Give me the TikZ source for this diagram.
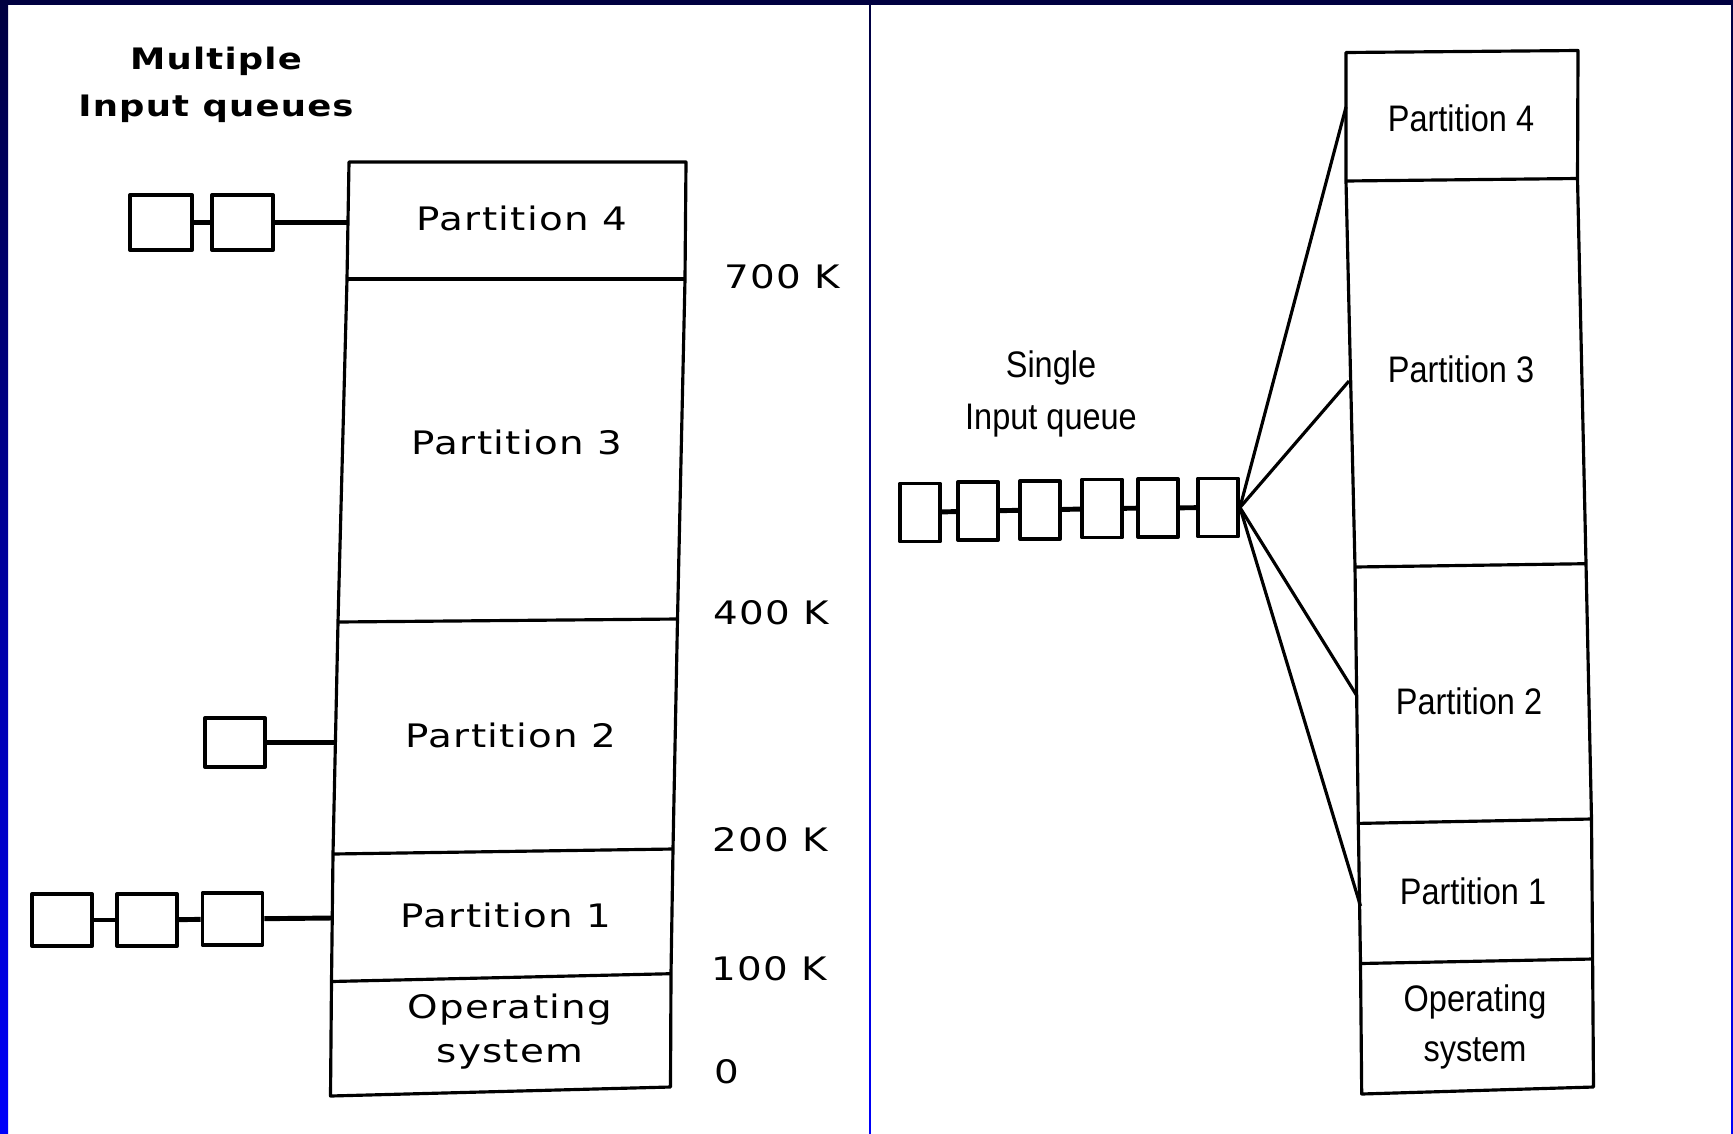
\documentclass[tikz,border=0pt]{standalone}
\usepackage{fontspec}
\setmainfont{Liberation Sans}
\newfontfamily\wideface[FakeStretch=1.2,LetterSpace=4]{DejaVu Sans}
\newfontfamily\narrowface[FakeStretch=0.88]{Liberation Sans}
\definecolor{navy}{RGB}{0,0,64}
\definecolor{brightblue}{RGB}{0,0,250}

\tikzset{
  membox/.style={draw, line width=0.9pt},
  qbox/.style={draw, line width=1.1pt, inner sep=0pt, minimum width=6mm, minimum height=5.2mm},
  qlink/.style={line width=1.4pt},
  fanline/.style={line width=0.9pt},
  widetext/.style={font=\wideface\fontsize{9.2}{12.5}\selectfont, inner sep=0pt, align=center},
  narrowtext/.style={font=\narrowface\fontsize{10.5}{14.2}\selectfont, inner sep=0pt, align=center},
}

\begin{document}
\begin{tikzpicture}[x=0.01cm, y=-0.01cm, line join=round]
        \useasboundingbox (0,0) rectangle (1733,1133);
        % 背景与边框
        \fill[white] (0,0) rectangle (1733,1133);
        \fill[navy] (0,0) rectangle (1733,5);
        \shade[top color=navy, bottom color=brightblue] (0,0) rectangle (8,1133);
        \shade[top color=navy, bottom color=brightblue] (1731,0) rectangle (1733,1133);
        \shade[top color=navy, bottom color=brightblue] (869.2,5) rectangle (870.8,1133);

        % ===== 左图: 多个输入队列 =====
        \coordinate (LTL) at (349,162);   \coordinate (LTR) at (686,162);
        \coordinate (L7l) at (347,279);   \coordinate (L7r) at (685,279);
        \coordinate (L4l) at (338,622);   \coordinate (L4r) at (677.5,619);
        \coordinate (L2l) at (333,854);   \coordinate (L2r) at (673,849);
        \coordinate (L1l) at (331.5,981.5); \coordinate (L1r) at (671,973.7);
        \coordinate (LBL) at (330.5,1096); \coordinate (LBR) at (670.5,1087);
        \draw[membox] (LTL) -- (LTR) -- (L7r) -- (L4r) -- (L2r) -- (L1r) -- (LBR)
              -- (LBL) -- (L1l) -- (L2l) -- (L4l) -- (L7l) -- cycle;
        \draw[membox] (L7l) -- (L7r);
        \draw[membox] (L4l) -- (L4r);
        \draw[membox] (L2l) -- (L2r);
        \draw[membox] (L1l) -- (L1r);

        % 分区名称
        \node[widetext] (lp4) at (522,218) {Partition 4};
        \node[widetext] (lp3) at (517,442) {Partition 3};
        \node[widetext] (lp2) at (511,735) {Partition 2};
        \node[widetext] (lp1) at (506,915) {Partition 1};
        \node[widetext] (los) at (510,1032) {Operating\\system};

        % 地址刻度
        \node[widetext] (k700) at (782,277) {700 K};
        \node[widetext] (k400) at (771,613) {400 K};
        \node[widetext] (k200) at (770,840) {200 K};
        \node[widetext] (k100) at (769,969) {100 K};
        \node[widetext] (k0)   at (727,1072) {0};

        \node[widetext, font=\wideface\bfseries\fontsize{8.4}{13.5}\selectfont] (mtitle) at (216,85) {Multiple\\Input queues};

        % 队列 (分区 4)
        \node[qbox, minimum width=6.2mm, minimum height=5.5mm] (qa1) at (161,222.5) {};
        \node[qbox, minimum width=6.1mm, minimum height=5.5mm] (qa2) at (242.5,222.5) {};
        \coordinate (ea) at (348,222.5);
        \draw[qlink] (qa1) -- (qa2);
        \draw[qlink] (qa2) -- (ea);

        % 队列 (分区 2)
        \node[qbox, minimum height=4.9mm] (qb1) at (235,742.5) {};
        \coordinate (eb) at (336,742.5);
        \draw[qlink] (qb1) -- (eb);

        % 队列 (分区 1)
        \node[qbox] (qc1) at (62,920) {};
        \node[qbox] (qc2) at (147,920) {};
        \node[qbox] (qc3) at (232.5,919) {};
        \coordinate (ec) at (332,918);
        \draw[qlink] (qc1) -- (qc2);
        \draw[qlink] (qc2) -- (qc3);
        \draw[qlink] (qc3) -- (ec);

        % ===== 右图: 单个输入队列 =====
        \coordinate (RTL) at (1346,52.5);   \coordinate (RTR) at (1578,50.5);
        \coordinate (R4l) at (1346,181);    \coordinate (R4r) at (1577.5,178.5);
        \coordinate (R3l) at (1355,567);    \coordinate (R3r) at (1586,563.7);
        \coordinate (R2l) at (1358.3,823.4); \coordinate (R2r) at (1591.5,819);
        \coordinate (R1l) at (1360.5,963.5); \coordinate (R1r) at (1592.6,959);
        \coordinate (RBL) at (1361.7,1094); \coordinate (RBR) at (1593.5,1087);
        \draw[membox] (RTL) -- (RTR) -- (R4r) -- (R3r) -- (R2r) -- (R1r) -- (RBR)
              -- (RBL) -- (R1l) -- (R2l) -- (R3l) -- (R4l) -- cycle;
        \draw[membox] (R4l) -- (R4r);
        \draw[membox] (R3l) -- (R3r);
        \draw[membox] (R2l) -- (R2r);
        \draw[membox] (R1l) -- (R1r);

        \node[narrowtext] (rp4) at (1461,118) {Partition 4};
        \node[narrowtext] (rp3) at (1461,369) {Partition 3};
        \node[narrowtext] (rp2) at (1469,701) {Partition 2};
        \node[narrowtext] (rp1) at (1473,891) {Partition 1};
        \node[narrowtext] (ros) at (1475,1027) {Operating\\system};

        \node[narrowtext, font=\narrowface\fontsize{10.5}{14.8}\selectfont] (stitle) at (1051,394) {Single\\Input queue};

        % 单队列
        \foreach \i/\x/\y in {1/920/512.5, 2/978/511, 3/1040/510, 4/1102/508.5, 5/1158/508, 6/1218/507.5}
            \node[qbox, minimum width=4mm, minimum height=5.8mm] (sq\i) at (\x,\y) {};
        \foreach \i [evaluate=\i as \j using int(\i+1)] in {1,...,5}
            \draw[qlink] (sq\i) -- (sq\j);

        % 扇形连线
        \coordinate (f4) at (1346,107);
        \coordinate (f3) at (1349,381);
        \coordinate (f2) at (1357,696);
        \coordinate (f1) at (1360.5,906);
        \foreach \t in {f4,f3,f2,f1}
            \draw[fanline] (sq6.east) -- (\t);
\end{tikzpicture}
\end{document}
